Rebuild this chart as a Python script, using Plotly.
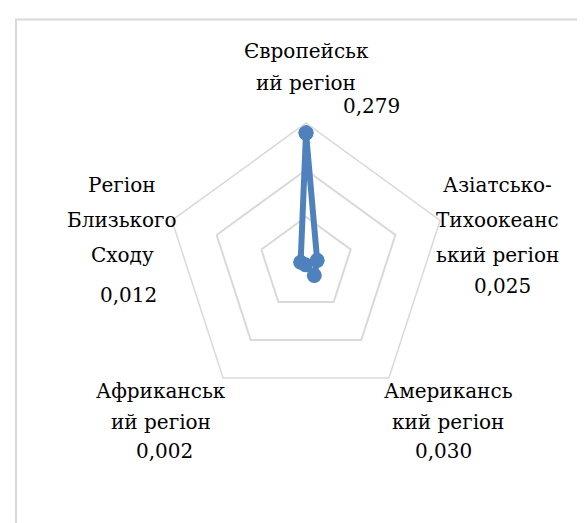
import plotly.graph_objects as go

categories = ["Європейський регіон", "Азіатсько-Тихоокеанський регіон",
              "Американський регіон", "Африканський регіон", "Регіон Близького Сходу"]
values = [0.279, 0.025, 0.030, 0.002, 0.012]
tick_labels = ["Європейськ<br>ий регіон", "Азіатсько-<br>Тихоокеанс<br>ький регіон",
               "Американсь<br>кий регіон", "Африканськ<br>ий регіон", "Регіон<br>Близького<br>Сходу"]
radial_ticks = [0.1, 0.2, 0.3]

W, H = 585, 523
FONT = "DejaVu Serif"
FS = 20
BLUE = "#4f81bd"
GRID = "#d9d9d9"

fig = go.Figure()
fig.add_trace(go.Scatterpolar(
    r=values + values[:1],
    theta=categories + categories[:1],
    mode="lines+markers",
    line=dict(color=BLUE, width=6),
    marker=dict(color=BLUE, size=15),
    hoverinfo="skip",
    showlegend=False,
))

cx, cy, R = 298, 256, 141
fig.update_layout(
    width=W, height=H,
    margin=dict(l=0, r=0, t=0, b=0),
    paper_bgcolor="white",
    plot_bgcolor="white",
    font=dict(family=FONT),
    polar=dict(
        domain=dict(x=[(cx - R) / W, (cx + R) / W], y=[(H - cy - R) / H, (H - cy + R) / H]),
        bgcolor="white",
        gridshape="linear",
        radialaxis=dict(range=[0, 0.3], tickvals=radial_ticks, showticklabels=False,
                        ticks="", showline=False, gridcolor=GRID, gridwidth=1.5),
        angularaxis=dict(direction="clockwise", rotation=90, showgrid=False,
                         showticklabels=False, ticks="", showline=True,
                         linecolor=GRID, linewidth=1.5),
    ),
)

def fmt(v):
    return f"{v:.3f}".replace(".", ",")

# per-line pixel positions for category labels, and value label positions
label_x = [298, 489, 440, 153, 114]
label_line_y = [[43, 75], [177, 212, 247], [383, 414], [383, 414], [177, 212, 247]]
value_pos = [(363, 98), (494, 278), (435, 443), (156, 443), (120, 287)]

def txt(s, px, py):
    fig.add_annotation(text=s, x=px / W, y=1 - py / H, xref="paper", yref="paper",
                       xanchor="center", yanchor="middle", showarrow=False,
                       font=dict(family=FONT, size=FS, color="black"))

for lab, lx, ys in zip(tick_labels, label_x, label_line_y):
    for line, ly in zip(lab.split("<br>"), ys):
        txt(line, lx, ly)
for v, (vx, vy) in zip(values, value_pos):
    txt(fmt(v), vx, vy)

# chart-area border (extends past right and bottom edges as in the reference)
fig.add_shape(type="rect", xref="paper", yref="paper",
              x0=8 / W, x1=1.05, y0=-0.05, y1=1 - 11.5 / H,
              line=dict(color=GRID, width=2), layer="below")

fig.write_html("out.html")
